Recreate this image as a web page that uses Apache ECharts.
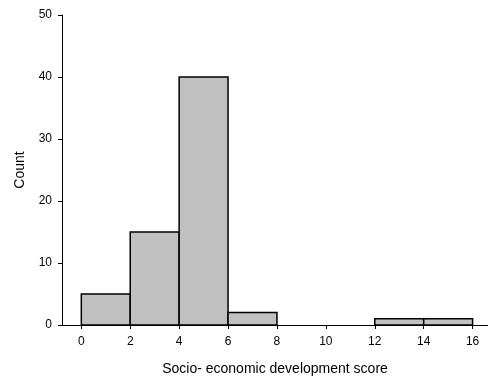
<!DOCTYPE html>
<html>
<head>
<meta charset="utf-8">
<script src="https://cdn.jsdelivr.net/npm/echarts@6/dist/echarts.min.js"></script>
<style>
  html, body { margin: 0; padding: 0; background: #fff; }
  #chart { width: 488px; height: 381px; }
</style>
</head>
<body>
<div id="chart"></div>
<script>
// Histogram bins: lower edge, upper edge, count
const binStart = [0, 2, 4, 6, 8, 10, 12, 14];
const binEnd   = [2, 4, 6, 8, 10, 12, 14, 16];
const counts   = [5, 15, 40, 2, 0, 0, 1, 1];
const xTicks   = [0, 2, 4, 6, 8, 10, 12, 14, 16];

const FONT = '"Liberation Sans", Arial, sans-serif';

const data = binStart.map((s, i) => [s, binEnd[i], counts[i]]);

const chart = echarts.init(document.getElementById('chart'), null, { renderer: 'canvas' });

chart.setOption({
  animation: false,
  backgroundColor: '#ffffff',
  grid: { left: 62, top: 15, width: 426, height: 311 },
  xAxis: {
    type: 'value',
    min: -0.79,
    max: 16.63,
    name: 'Socio- economic development score',
    nameLocation: 'middle',
    nameGap: 37,
    nameTextStyle: { fontFamily: FONT, fontSize: 14, color: '#000' },
    axisLine: { show: true, onZero: false, lineStyle: { color: '#000', width: 1 } },
    axisTick: { show: true, length: 4, customValues: xTicks, lineStyle: { color: '#000' } },
    axisLabel: { customValues: xTicks, margin: 11, fontFamily: FONT, fontSize: 12, color: '#000' },
    splitLine: { show: false }
  },
  yAxis: {
    type: 'value',
    min: 0,
    max: 50,
    interval: 10,
    name: 'Count',
    nameLocation: 'middle',
    nameGap: 35,
    nameTextStyle: { fontFamily: FONT, fontSize: 14, color: '#000' },
    axisLine: { show: true, onZero: false, lineStyle: { color: '#000', width: 1 } },
    axisTick: { show: true, length: 4, lineStyle: { color: '#000' } },
    axisLabel: { margin: 10, fontFamily: FONT, fontSize: 12, color: '#000' },
    splitLine: { show: false }
  },
  series: [{
    type: 'custom',
    data: data,
    encode: { x: [0, 1], y: 2 },
    renderItem: function (params, api) {
      const h = api.value(2);
      if (h <= 0) return null;
      const p0 = api.coord([api.value(0), 0]);
      const p1 = api.coord([api.value(1), h]);
      return {
        type: 'rect',
        shape: { x: p0[0], y: p1[1], width: p1[0] - p0[0], height: p0[1] - p1[1] },
        style: { fill: '#c0c0c0', stroke: '#000', lineWidth: 1.5 }
      };
    }
  }]
});
</script>
</body>
</html>
